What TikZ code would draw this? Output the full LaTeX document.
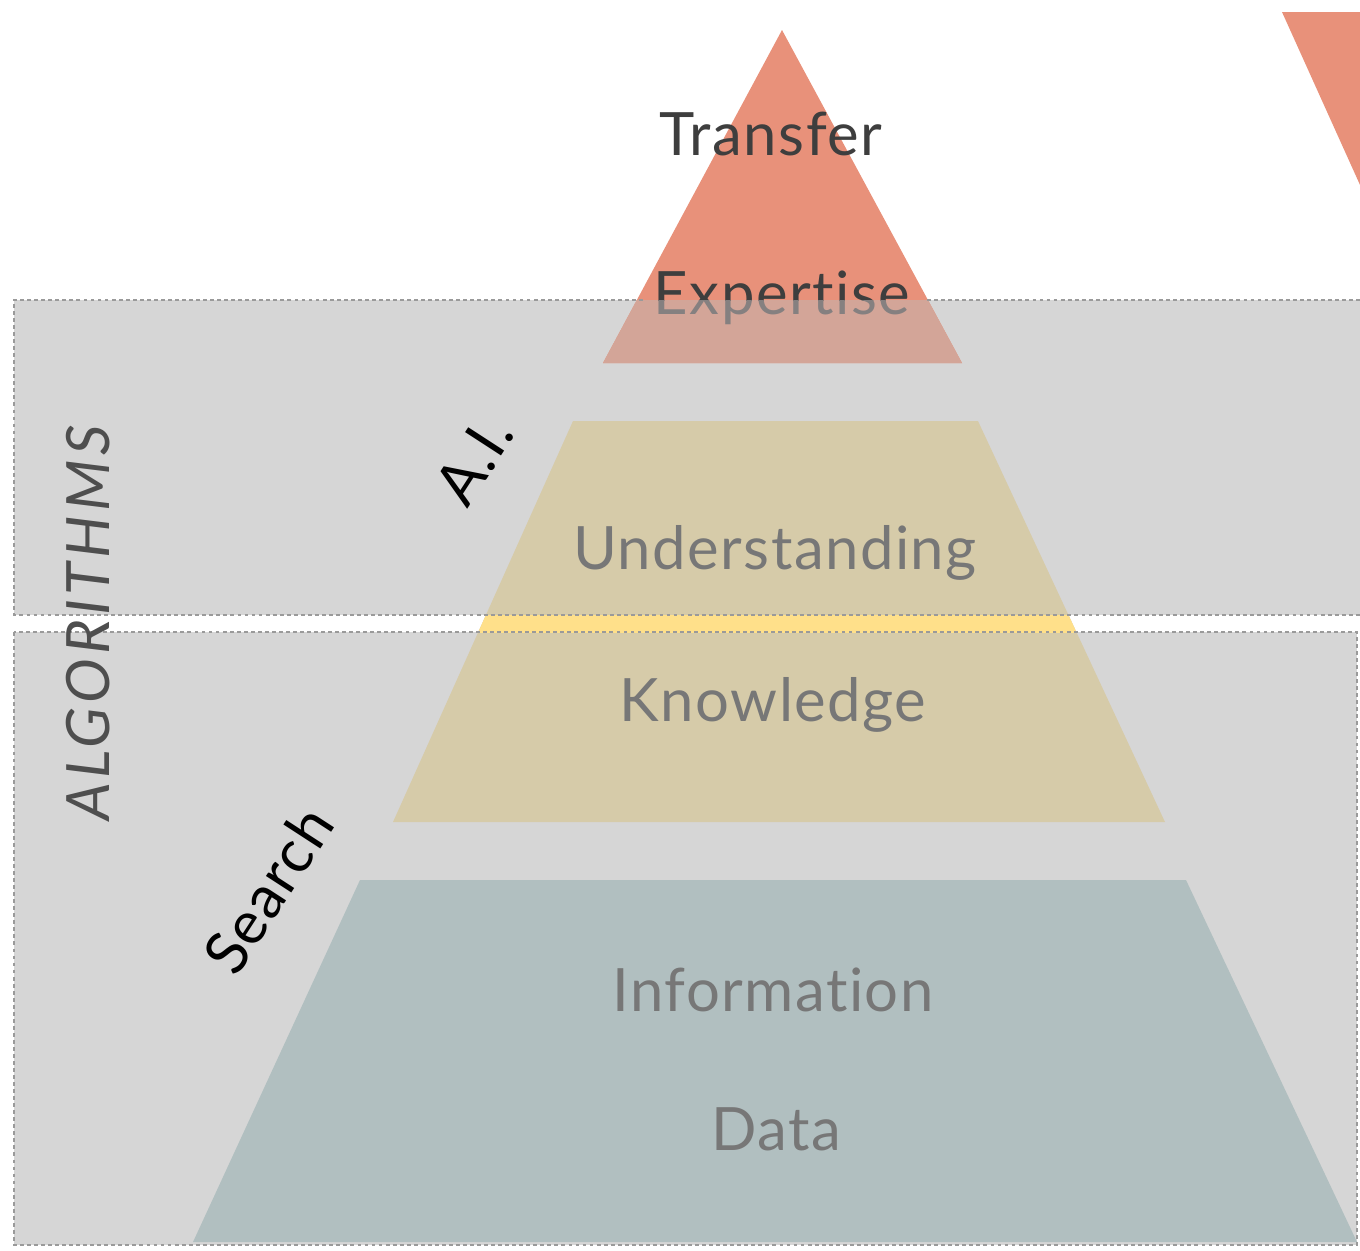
\documentclass[tikz,border=0pt]{standalone}
\usepackage{fontspec}
\setmainfont{Lato}[Ligatures=NoCommon]
\usetikzlibrary{positioning}

\definecolor{salmon}{HTML}{E8917A}
\definecolor{salmonshade}{HTML}{D3A598}
\definecolor{bandgray}{HTML}{D6D6D6}
\definecolor{wheat}{HTML}{D6CBA9}
\definecolor{butter}{HTML}{FFE08A}
\definecolor{slate}{HTML}{B1BFC0}
\definecolor{dashgray}{HTML}{9A9A9A}
\definecolor{levelgray}{HTML}{777777}
\definecolor{topgray}{HTML}{3E3E3E}
\definecolor{fadegray}{HTML}{858080}
\definecolor{algogray}{HTML}{4E4E4E}

\tikzset{
    bandedge/.style={draw=dashgray, line width=0.7pt, dash pattern=on 1.1pt off 0.9pt},
    level/.style={anchor=base, text=levelgray, font=\fontsize{17}{20}\selectfont\addfontfeature{LetterSpace=2.5}},
    tag/.style={rotate=57, text=black, font=\fontsize{17}{20}\selectfont\addfontfeature{LetterSpace=2.5}},
}

\begin{document}
\begin{tikzpicture}[x=0.01cm, y=-0.01cm]
        \useasboundingbox (0,0) rectangle (1360,1250);
        \clip (0,0) rectangle (1360,1250);

        \fill [bandgray] (14,300) rectangle (1362,615);
        \fill [bandgray] (14,632) rectangle (1357,1245);

        \fill [salmon] (782,30) -- (962,363) -- (603,363) -- cycle;
        \fill [salmon] (1282,12) -- (1365,12) -- (1365,196) -- cycle;
        \begin{scope}
            \clip (0,300) rectangle (1360,615);
            \fill [salmonshade] (782,30) -- (962,363) -- (603,363) -- cycle;
        \end{scope}

        \fill [wheat] (573,421) -- (978,421) -- (1165,822) -- (393,822) -- cycle;
        \begin{scope}
            \clip (0,615) rectangle (1360,632);
            \fill [butter] (573,421) -- (978,421) -- (1165,822) -- (393,822) -- cycle;
        \end{scope}
        \fill [slate] (360,880) -- (1186,880) -- (1357,1242) -- (193,1242) -- cycle;

        \draw [bandedge] (643,300) -- (14,300) -- (14,615) -- (1362,615);
        \draw [bandedge] (927,300) -- (1362,300);
        \draw [bandedge] (14,632) rectangle (1357,1245);

        \node [level, text=topgray] (transfer) at (771,155) {Transfer};
        \begin{scope}
            \clip (0,0) rectangle (1360,300);
            \node [level, text=topgray] (expertise) at (782,314) {Expertise};
        \end{scope}
        \begin{scope}
            \clip (0,300) rectangle (1360,400);
            \node [level, text=fadegray] (expertiseshade) at (782,314) {Expertise};
        \end{scope}

        \node [level] (understanding) at (775,569) {Understanding};
        \node [level] (knowledge) at (773,721) {Knowledge};
        \node [level] (information) at (773,1011) {Information};
        \node [level] (data) at (776,1150) {Data};

        \node [tag] (ai) at (474,460) {A.I.};
        \node [tag] (search) at (268,890) {Search};

        \node [rotate=90, anchor=base, text=algogray, font=\fontsize{17}{20}\selectfont\itshape\addfontfeature{LetterSpace=7}] (algorithms) at (110,623) {ALGORITHMS};
\end{tikzpicture}
\end{document}
